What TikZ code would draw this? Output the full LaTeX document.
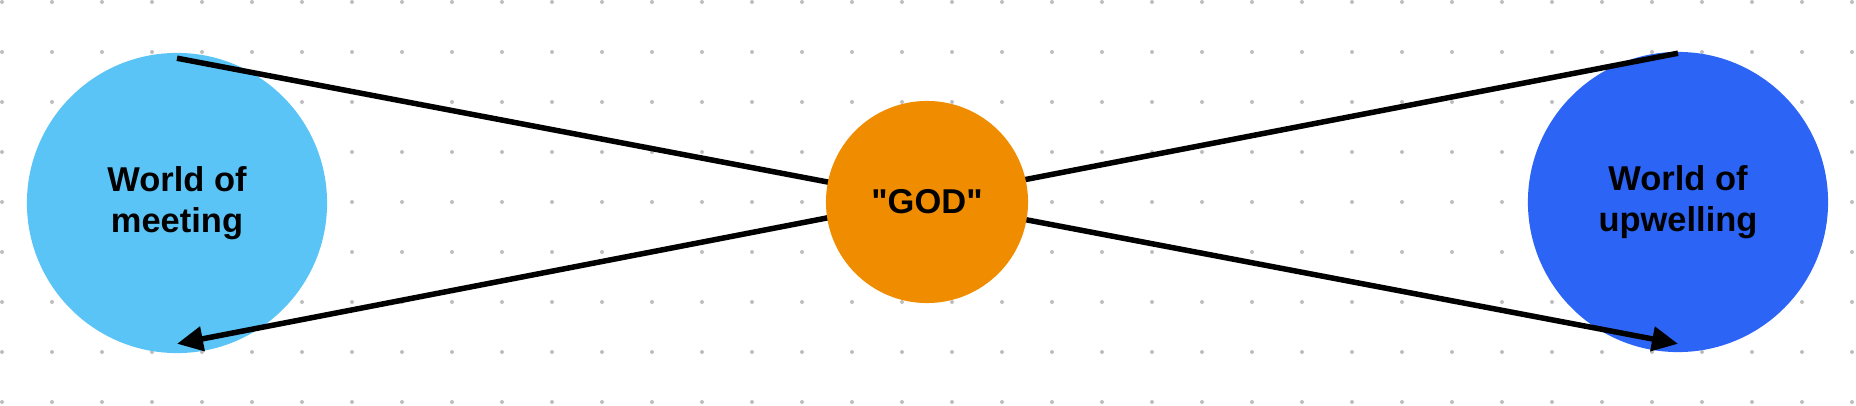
\documentclass[tikz,border=0pt]{standalone}
\usepackage{fontspec}
\setmainfont{Liberation Sans}[Ligatures=TeXOff]
\usepackage{xcolor}
\usetikzlibrary{arrows.meta}
\definecolor{meetblue}{RGB}{91,196,246}
\definecolor{godorange}{RGB}{240,140,0}
\definecolor{upblue}{RGB}{44,100,246}
\definecolor{dotgray}{RGB}{190,190,190}

\begin{document}
\begin{tikzpicture}[x=0.01cm, y=-0.01cm,
  world/.style={circle, minimum size=3cm, inner sep=0pt, align=center, font=\fontsize{9.8}{11.7}\selectfont\bfseries},
  link/.style={line width=0.055cm, -{Triangle[length=0.26cm, width=0.24cm]}}]
\useasboundingbox (0,0) rectangle (1856,406);
\foreach \i in {0,...,37}
  \foreach \j in {0,...,8}
    \fill[dotgray] (2+50*\i, 2+50*\j) circle[radius=0.02cm];

\node[world, fill=meetblue] (meet) at (177,203) {World of\\meeting};
\node[world, fill=upblue] (upwell) at (1678,202) {World of\\upwelling};

\coordinate (meettop) at ([yshift=-0.06cm]meet.north);
\coordinate (meetbot) at ([yshift=0.1cm]meet.south);
\coordinate (uptop) at ([yshift=-0.02cm]upwell.north);
\coordinate (upbot) at ([yshift=0.09cm]upwell.south);

\draw[link] (meettop) -- (upbot);
\draw[link] (uptop) -- (meetbot);

\node[world, fill=godorange, minimum size=2.02cm] (god) at (927,202) {"GOD"};
\end{tikzpicture}
\end{document}
